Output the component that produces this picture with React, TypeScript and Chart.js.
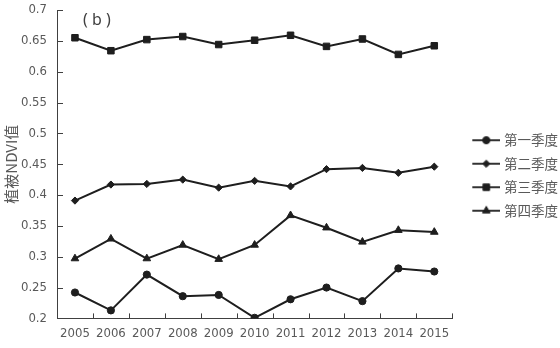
import React, { useEffect, useRef } from "react";
import { Chart, registerables } from "chart.js";
import { drawPoint } from "chart.js/helpers";

Chart.register(...registerables);

const years = ["2005", "2006", "2007", "2008", "2009", "2010", "2011", "2012", "2013", "2014", "2015"];
const q1 = [0.242, 0.213, 0.271, 0.236, 0.238, 0.201, 0.231, 0.25, 0.228, 0.281, 0.276];
const q2 = [0.391, 0.417, 0.418, 0.425, 0.412, 0.423, 0.414, 0.442, 0.444, 0.436, 0.446];
const q3 = [0.655, 0.634, 0.652, 0.657, 0.644, 0.651, 0.659, 0.641, 0.653, 0.628, 0.642];
const q4 = [0.297, 0.329, 0.297, 0.319, 0.296, 0.319, 0.367, 0.347, 0.324, 0.343, 0.34];
const seriesNames = ["第一季度", "第二季度", "第三季度", "第四季度"];
const yTicks = [0.2, 0.25, 0.3, 0.35, 0.4, 0.45, 0.5, 0.55, 0.6, 0.65, 0.7];
const yTickLabels = ["0.2", "0.25", "0.3", "0.35", "0.4", "0.45", "0.5", "0.55", "0.6", "0.65", "0.7"];
const yTitle = "植被NDVI值";
const panelLabel = "( b )";

const styles = [
  { pointStyle: "circle", radius: 3.6 },
  { pointStyle: "rectRot", radius: 3.6 },
  { pointStyle: "rect", radius: 4.6 },
  { pointStyle: "triangle", radius: 4.4 },
];

const LINE = "#1e1e1e";
const AXIS = "#404040";
const TEXT = "#595959";
const tickFont = { family: "'Liberation Sans Narrow', 'DejaVu Sans Condensed', sans-serif", size: 13 };

function makeIcon(pointStyle: string, radius: number): HTMLCanvasElement {
  const c = document.createElement("canvas");
  c.width = 41;
  c.height = 12;
  const ctx = c.getContext("2d")!;
  ctx.strokeStyle = "#333";
  ctx.lineWidth = 2;
  ctx.beginPath();
  ctx.moveTo(13, 6);
  ctx.lineTo(41, 6);
  ctx.stroke();
  ctx.fillStyle = LINE;
  ctx.strokeStyle = LINE;
  ctx.lineWidth = 1;
  drawPoint(ctx as any, { pointStyle: pointStyle as any, radius, rotation: 0, borderWidth: 1 }, 27, 6);
  return c;
}

const axisDecor = {
  id: "axisDecor",
  afterDraw(chart: any) {
    const { ctx, chartArea, scales } = chart;
    const x = scales.x;
    const y = scales.y;
    ctx.save();
    ctx.strokeStyle = AXIS;
    ctx.lineWidth = 1;
    ctx.beginPath();
    y.ticks.forEach((_t: any, i: number) => {
      const py = Math.round(y.getPixelForTick(i)) + 0.5;
      ctx.moveTo(chartArea.left, py);
      ctx.lineTo(chartArea.left + 6, py);
    });
    for (let i = 0; i <= years.length; i++) {
      const px = Math.round(x.getPixelForValue(i - 0.5)) + 0.5;
      ctx.moveTo(px, chartArea.bottom);
      ctx.lineTo(px, chartArea.bottom - 5);
    }
    ctx.stroke();
    ctx.fillStyle = AXIS;
    ctx.font = "16px 'Noto Sans', sans-serif";
    ctx.textBaseline = "middle";
    ctx.textAlign = "left";
    ctx.fillText(panelLabel, chartArea.left + 26, chartArea.top + 10);
    ctx.restore();
  },
};

export default function App() {
  const ref = useRef<HTMLCanvasElement | null>(null);

  useEffect(() => {
    document.body.style.margin = "0";
    const canvas = ref.current;
    if (!canvas) return;
    const icons = styles.map((s) => makeIcon(s.pointStyle, s.radius));
    const seriesData = [q1, q2, q3, q4];
    const chart = new Chart(canvas, {
      type: "line",
      data: {
        labels: years,
        datasets: seriesData.map((d, i) => ({
          label: seriesNames[i],
          data: d,
          borderColor: LINE,
          borderWidth: 2,
          pointStyle: styles[i].pointStyle as any,
          pointRadius: styles[i].radius,
          pointBackgroundColor: LINE,
          pointBorderColor: LINE,
          pointBorderWidth: 1,
          tension: 0,
          fill: false,
        })),
      },
      options: {
        animation: false,
        responsive: false,
        events: [],
        layout: { padding: { top: 3, right: -8, bottom: 0, left: 0 } },
        plugins: {
          tooltip: { enabled: false },
          legend: {
            position: "right",
            align: "center",
            labels: {
              usePointStyle: true,
              pointStyleWidth: 35,
              padding: 10,
              color: TEXT,
              font: { family: "'Noto Sans CJK SC', sans-serif", size: 13.5 },
              generateLabels: (ch: any) => {
                const items = (Chart.defaults.plugins.legend.labels as any).generateLabels(ch);
                items.forEach((it: any, i: number) => {
                  it.pointStyle = icons[i];
                });
                return items;
              },
            },
          },
        },
        scales: {
          x: {
            type: "category",
            offset: true,
            grid: { display: false, offset: true, drawTicks: false, tickLength: 0 },
            border: { display: true, color: AXIS, width: 1 },
            ticks: { color: TEXT, font: tickFont, padding: 7, autoSkip: false, maxRotation: 0 },
            afterFit: (s: any) => {
              s.paddingLeft = 0;
              s.paddingRight = 0;
            },
          },
          y: {
            min: 0.2,
            max: 0.7,
            grid: { display: false, drawTicks: false, tickLength: 0 },
            border: { display: true, color: AXIS, width: 1 },
            afterBuildTicks: (s: any) => {
              s.ticks = yTicks.map((v) => ({ value: v }));
            },
            afterFit: (s: any) => {
              s.width = 57;
              s.paddingTop = 10;
              s.paddingBottom = 0;
            },
            ticks: {
              color: TEXT,
              font: tickFont,
              padding: 10,
              callback: (_v: any, i: number) => yTickLabels[i],
            },
            title: {
              display: true,
              text: yTitle,
              color: TEXT,
              font: { family: "'Noto Sans CJK SC', sans-serif", size: 15 },
              padding: { top: 2, bottom: 0 },
            },
          },
        },
      },
      plugins: [axisDecor],
    });
    return () => chart.destroy();
  }, []);

  return (
    <div style={{ width: 560, height: 348, background: "#fff" }}>
      <canvas ref={ref} width={560} height={348} />
    </div>
  );
}
